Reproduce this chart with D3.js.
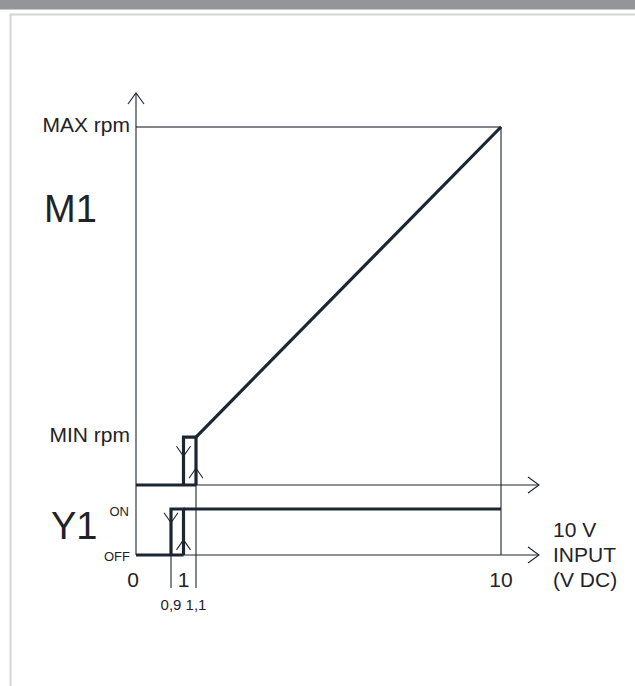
<!DOCTYPE html>
<html>
<head>
<meta charset="utf-8">
<script src="https://cdn.jsdelivr.net/npm/d3@7"></script>
<style>
	body { margin: 0; background: #fff; }
	svg text { font-family: "Liberation Sans", Arial, sans-serif; fill: #1f2328; }
</style>
</head>
<body>
<div id="chart"></div>
<script>
// input voltage positions (V DC) and labels
var xMain = [0, 1, 10];
var xMainLabels = ['0', '1', '10'];
var xSub = [0.9, 1.1];
var xSubLabels = ['0,9', '1,1'];

// M1 speed, as a fraction of MAX rpm
var minRpm = 0.134;
var m1Base = [[0, 0], [1.1, 0]];
var m1Hyst = [[1, 0], [1, minRpm], [1.1, minRpm], [1.1, 0]];
var m1Ramp = [[1.1, minRpm], [10, 1]];
var m1Arrows = [{ v: 1, dir: 'down' }, { v: 1.1, dir: 'up' }];

// Y1 state, 0 = OFF, 1 = ON
var y1Base = [[0, 0], [1, 0]];
var y1Hyst = [[0.9, 0], [0.9, 1], [1, 1], [1, 0]];
var y1On = [[1, 1], [10, 1]];
var y1Arrows = [{ v: 0.9, dir: 'down' }, { v: 1, dir: 'up' }];

var inputLabel = ['10 V', 'INPUT', '(V DC)'];

var width = 635;
var height = 686;

var colors = {
	line: '#1c2630',
	grey: '#80868b',
	text: '#1f2328'
}

var svg = d3.select('#chart')
	.append('svg')
	.attr('width', width)
	.attr('height', height);

// page frame
svg.append('rect')
	.attr('x', 0).attr('y', 0)
	.attr('width', width).attr('height', 9.5)
	.attr('fill', '#939598');

svg.append('path')
	.attr('d', 'M10.5,' + height + 'V14.5H' + width)
	.attr('fill', 'none')
	.attr('stroke', '#d4d4d4')
	.attr('stroke-width', 2);

// not to scale around 1 V, so a piecewise scale
var x = d3.scaleLinear()
	.domain([0, 0.9, 1, 1.1, 10])
	.range([136, 171, 183.5, 196, 501]);

var yM = d3.scaleLinear().domain([0, 1]).range([485, 127]);
var yY = d3.scaleLinear().domain([0, 1]).range([555, 509]);

var lineM = d3.line().x(function(d) { return x(d[0]); }).y(function(d) { return yM(d[1]); });
var lineY = d3.line().x(function(d) { return x(d[0]); }).y(function(d) { return yY(d[1]); });

var g = svg.append('g');

// MAX rpm guide
g.append('line')
	.attr('x1', x(0)).attr('x2', x(10))
	.attr('y1', yM(1)).attr('y2', yM(1))
	.attr('stroke', colors.grey)
	.attr('stroke-width', 2);

// thin guides
function thin(x1, y1, x2, y2) {
	g.append('line')
		.attr('x1', x1).attr('y1', y1)
		.attr('x2', x2).attr('y2', y2)
		.attr('stroke', colors.line)
		.attr('stroke-width', 1.1);
}

var axisEnd = 539;
var tickBottom = 588;

thin(x(0), yY(0), x(0), 93);
thin(x(0), yM(0), axisEnd, yM(0));
thin(x(0), yY(0), axisEnd, yY(0));
thin(x(10), yM(1), x(10), yY(0));
thin(x(1.1), yM(minRpm), x(1.1), tickBottom);
thin(x(0.9), yY(1), x(0.9), tickBottom);

// open arrow heads
function chevron(px, py, dir, dx, dy) {
	var pts;
	if (dir === 'up') pts = [[px - dx, py + dy], [px, py], [px + dx, py + dy]];
	if (dir === 'down') pts = [[px - dx, py - dy], [px, py], [px + dx, py - dy]];
	if (dir === 'right') pts = [[px - dy, py - dx], [px, py], [px - dy, py + dx]];
	g.append('path')
		.attr('d', d3.line()(pts))
		.attr('fill', 'none')
		.attr('stroke', colors.line)
		.attr('stroke-width', 1.1);
}

chevron(x(0), 93, 'up', 8, 11);
chevron(axisEnd, yM(0), 'right', 8, 11);
chevron(axisEnd, yY(0), 'right', 8, 11);

m1Arrows.forEach(function(a) {
	var ty = a.dir === 'down' ? yM(minRpm * 0.6) : yM(minRpm * 0.35);
	chevron(x(a.v), ty, a.dir, 7, 10);
});
y1Arrows.forEach(function(a) {
	var ty = a.dir === 'down' ? yY(0.7) : yY(0.33);
	chevron(x(a.v), ty, a.dir, 7, 10);
});

// thick curves
[[m1Base, lineM], [m1Hyst, lineM], [m1Ramp, lineM], [y1Base, lineY], [y1Hyst, lineY], [y1On, lineY]]
	.forEach(function(s) {
		g.append('path')
			.attr('d', s[1](s[0]))
			.attr('fill', 'none')
			.attr('stroke', colors.line)
			.attr('stroke-width', 3.2)
			.attr('stroke-linejoin', 'miter');
	});

// labels
function label(txt, px, py, size, anchor) {
	return svg.append('text')
		.attr('x', px).attr('y', py)
		.attr('font-size', size)
		.attr('text-anchor', anchor || 'start')
		.text(txt);
}

label('MAX rpm', 130, yM(1) + 5, 21, 'end');
label('MIN rpm', 130, yM(minRpm) + 5, 21, 'end');
label('M1', 44, 222, 38);
label('Y1', 51, 539, 38);
label('ON', 129, yY(1) + 7, 13, 'end');
label('OFF', 130, yY(0) + 6, 13, 'end');

svg.selectAll('.xmain')
	.data(xMain)
	.enter()
	.append('text')
	.attr('class', 'xmain')
	.attr('x', function(d, i) { return x(d) + (i === 0 ? -3 : 0); })
	.attr('y', 587)
	.attr('font-size', 21)
	.attr('text-anchor', 'middle')
	.text(function(d, i) { return xMainLabels[i]; });

svg.selectAll('.xsub')
	.data(xSub)
	.enter()
	.append('text')
	.attr('class', 'xsub')
	.attr('x', function(d) { return x(d); })
	.attr('y', 610)
	.attr('font-size', 15)
	.attr('text-anchor', 'middle')
	.text(function(d, i) { return xSubLabels[i]; });

inputLabel.forEach(function(t, i) {
	label(t, 553, 537 + i * 25, 21);
});
</script>
</body>
</html>
